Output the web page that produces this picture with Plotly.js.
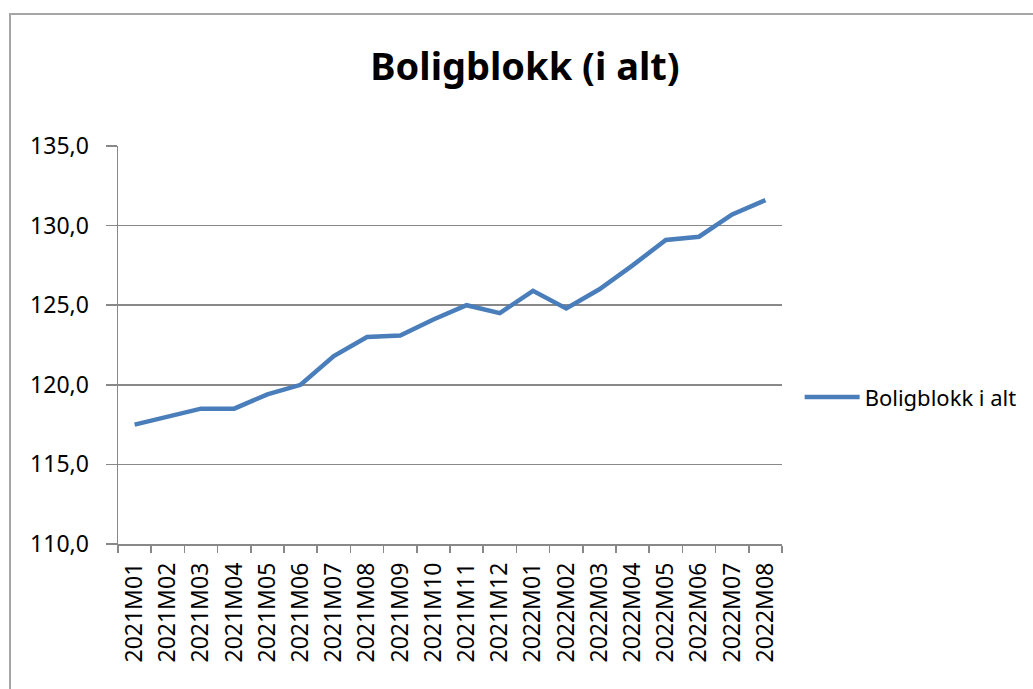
<!DOCTYPE html>
<html>
<head>
<meta charset="utf-8">
<script src="https://cdn.plot.ly/plotly-3.0.1.min.js"></script>
<style>
  html, body { margin: 0; padding: 0; background: #fff; }
  #wrap { position: relative; width: 1033px; height: 689px; overflow: hidden; }
  #chart { width: 1033px; height: 689px; }
  #frame { position: absolute; left: 9px; top: 13px; width: 1100px; height: 800px;
           border: 2px solid #a6a6a6; pointer-events: none; box-sizing: border-box; }
</style>
</head>
<body>
<div id="wrap">
  <div id="chart"></div>
  <div id="frame"></div>
</div>
<script>
const months = ["2021M01","2021M02","2021M03","2021M04","2021M05","2021M06","2021M07",
  "2021M08","2021M09","2021M10","2021M11","2021M12","2022M01","2022M02","2022M03",
  "2022M04","2022M05","2022M06","2022M07","2022M08"];
const values = [117.5, 118.0, 118.5, 118.5, 119.4, 120.0, 121.8, 123.0, 123.1, 124.1,
  125.0, 124.5, 125.9, 124.8, 126.0, 127.5, 129.1, 129.3, 130.7, 131.6];
const seriesName = "Boligblokk i alt";
const chartTitle = "Boligblokk (i alt)";

const trace = {
  x: months, y: values, type: "scatter", mode: "lines", name: seriesName,
  line: { color: "#4a7ebb", width: 4.5 }
};

const layout = {
  width: 1033, height: 689,
  margin: { l: 118, r: 250, t: 146, b: 145, pad: 0 },
  paper_bgcolor: "#fff", plot_bgcolor: "#fff",
  separators: ",.",
  showlegend: true,
  title: {
    text: "<b>" + chartTitle + "</b>",
    font: { family: "Noto Sans", size: 38, color: "#000" },
    x: 525 / 1033, xref: "container", xanchor: "center",
    y: 1 - 67 / 689, yref: "container", yanchor: "middle"
  },
  xaxis: {
    type: "category",
    tickangle: -90,
    tickson: "boundaries",
    ticks: "outside", ticklen: 7, tickcolor: "#888", tickwidth: 1.5,
    showline: true, linecolor: "#888", linewidth: 1.5,
    showgrid: false, zeroline: false,
    tickfont: { family: "Noto Sans", size: 23, color: "#000" },
    ticklabelstandoff: 8,
    range: [-0.5, 19.5],
    fixedrange: true
  },
  yaxis: {
    range: [110, 135], dtick: 5, tick0: 110,
    tickformat: ".1f",
    ticks: "outside", ticklen: 11, tickcolor: "#888", tickwidth: 1.5,
    showline: true, linecolor: "#888", linewidth: 1.5,
    showgrid: true, gridcolor: "#888", gridwidth: 1.5,
    zeroline: false,
    tickfont: { family: "Noto Sans", size: 23, color: "#000" },
    ticklabelstandoff: 12,
    fixedrange: true
  },
  legend: {
    x: 1.025, xanchor: "left", y: 0.369, yanchor: "middle",
    itemwidth: 55,
    font: { family: "Noto Sans", size: 22, color: "#000" },
    bgcolor: "rgba(0,0,0,0)"
  }
};

Plotly.newPlot("chart", [trace], layout, { displayModeBar: false, staticPlot: true });
</script>
</body>
</html>
